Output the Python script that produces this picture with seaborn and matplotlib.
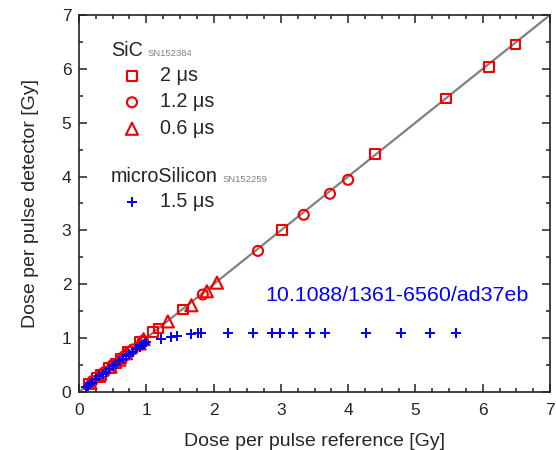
import pandas as pd
import seaborn as sns
import numpy as np
import matplotlib.pyplot as plt
from matplotlib.ticker import MultipleLocator

# SiC, 2 us pulses (squares)
sq_x = [0.14, 0.26, 0.33, 0.45, 0.55, 0.62, 0.73, 0.91, 1.10, 1.18, 1.55, 3.02, 4.40, 5.45, 6.09, 6.49]
sq_y = [0.16, 0.27, 0.32, 0.45, 0.53, 0.62, 0.75, 0.93, 1.11, 1.18, 1.53, 3.01, 4.42, 5.45, 6.04, 6.45]
# SiC, 1.2 us (circles)
ci_x = [0.20, 0.38, 0.50, 0.68, 0.80, 0.95, 1.84, 2.66, 3.34, 3.73, 4.00]
ci_y = [0.20, 0.37, 0.50, 0.67, 0.79, 0.95, 1.81, 2.62, 3.29, 3.68, 3.94]
# SiC, 0.6 us (triangles)
tr_x = [0.17, 0.30, 0.47, 0.60, 0.70, 0.90, 0.96, 1.32, 1.67, 1.90, 2.05]
tr_y = [0.17, 0.30, 0.47, 0.60, 0.72, 0.90, 0.98, 1.31, 1.61, 1.87, 2.03]
# microSilicon, 1.5 us (plus)
ms_x = [0.10, 0.13, 0.16, 0.20, 0.25, 0.30, 0.35, 0.40, 0.45, 0.50, 0.55, 0.60, 0.65,
        0.70, 0.75, 0.80, 0.85, 0.90, 0.93, 0.97, 1.00, 1.22, 1.37, 1.46, 1.67, 1.77,
        1.81, 2.22, 2.58, 2.87, 2.98, 3.18, 3.43, 3.66, 4.26, 4.79, 5.22, 5.60]
ms_y = [0.09, 0.12, 0.15, 0.19, 0.24, 0.29, 0.33, 0.38, 0.43, 0.48, 0.52, 0.57, 0.62,
        0.66, 0.71, 0.75, 0.79, 0.84, 0.87, 0.90, 0.92, 0.98, 1.02, 1.04, 1.07, 1.09,
        1.09, 1.09, 1.10, 1.10, 1.10, 1.10, 1.10, 1.10, 1.10, 1.10, 1.10, 1.10]

sns.set_style("ticks")
plt.rcParams['font.family'] = ['Liberation Sans', 'DejaVu Sans']
fs = 14.2

fig = plt.figure(figsize=(5.56, 4.5), dpi=100)
ax = fig.add_axes([0.1421, 0.1289, 0.8471, 0.8378])

ax.plot([0, 7], [0, 7], color='gray', lw=1.6, zorder=1)

red = '#f00000'
sns.scatterplot(x=sq_x, y=sq_y, marker='s', s=48, facecolor='none', edgecolor=red,
                linewidth=1.5, label='2 μs', ax=ax, zorder=3)
sns.scatterplot(x=ci_x, y=ci_y, marker='o', s=52, facecolor='none', edgecolor=red,
                linewidth=1.5, label='1.2 μs', ax=ax, zorder=3)
sns.scatterplot(x=tr_x, y=tr_y, marker='^', s=75, facecolor='none', edgecolor=red,
                linewidth=1.5, label='0.6 μs', ax=ax, zorder=3)
sns.scatterplot(x=ms_x, y=ms_y, marker='+', s=60, color='#0000ff',
                linewidth=1.4, label='1.5 μs', ax=ax, zorder=4)

ax.set_xlim(0, 7)
ax.set_ylim(0, 7)
ax.xaxis.set_major_locator(MultipleLocator(1))
ax.xaxis.set_minor_locator(MultipleLocator(0.25))
ax.yaxis.set_major_locator(MultipleLocator(1))
ax.yaxis.set_minor_locator(MultipleLocator(0.5))
ax.tick_params(which='both', direction='in', top=True, right=True, labelsize=12.5,
               color='#222222', width=1.1)
ax.tick_params(which='major', length=6)
ax.tick_params(which='minor', length=3)
ax.tick_params(axis='x', which='both', pad=8)
ax.tick_params(axis='y', which='both', pad=5.5)
for sp in ax.spines.values():
    sp.set_color('#222222')
    sp.set_linewidth(1.2)

ax.set_xlabel('Dose per pulse reference [Gy]', fontsize=14, labelpad=10.5)
ax.set_ylabel('Dose per pulse detector [Gy]', fontsize=14, labelpad=16)

h, l = ax.get_legend_handles_labels()
leg_kw = dict(frameon=False, fontsize=fs, borderpad=0, labelspacing=0.38,
              handletextpad=0.62, handlelength=1.6, loc='upper left')
leg1 = ax.legend(h[:3], l[:3], bbox_to_anchor=(0.058, 0.891), **leg_kw)
ax.add_artist(leg1)
leg2 = ax.legend(h[3:], l[3:], bbox_to_anchor=(0.058, 0.557), **leg_kw)

# group headings with serial numbers
ax.text(0.068, 0.8905, 'SiC', transform=ax.transAxes, fontsize=fs, va='baseline')
ax.text(0.1465, 0.8905, 'SN152384', transform=ax.transAxes, fontsize=6.8,
        color='gray', va='baseline')
ax.text(0.068, 0.557, 'microSilicon', transform=ax.transAxes, fontsize=fs, va='baseline')
ax.text(0.3057, 0.557, 'SN152259', transform=ax.transAxes, fontsize=6.8,
        color='gray', va='baseline')

ax.text(0.395, 0.257, '10.1088/1361-6560/ad37eb', transform=ax.transAxes,
        fontsize=15.4, color='#0000ff', va='center')

plt.savefig('out.png', dpi=100)
